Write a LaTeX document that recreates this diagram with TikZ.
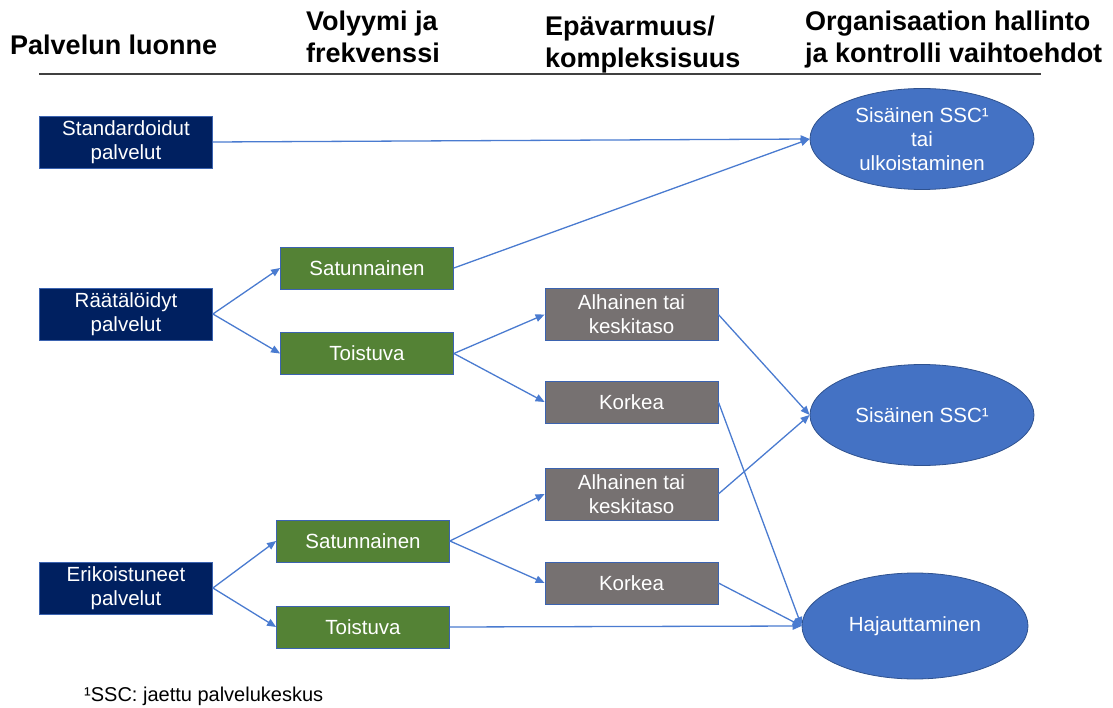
\documentclass[tikz,border=0pt]{standalone}
\usepackage{fontspec}
\setmainfont{Liberation Sans}
\usetikzlibrary{arrows.meta,shapes.geometric}

\definecolor{navy}{HTML}{002060}
\definecolor{leaf}{HTML}{548235}
\definecolor{stone}{HTML}{767171}
\definecolor{oval}{HTML}{4472C4}
\definecolor{ovalline}{HTML}{2F528F}
\definecolor{boxline}{HTML}{3B63B0}
\definecolor{arrowblue}{HTML}{4A7BD0}
\definecolor{rule}{HTML}{404040}

\begin{document}
\begin{tikzpicture}[x=1pt,y=-1pt,
  box/.style={draw=boxline, line width=0.8pt, text=white,
    font=\fontsize{20.5}{24}\selectfont, align=center, inner sep=0pt,
    minimum width=173pt},
  navybox/.style={box, fill=navy, minimum height=52pt},
  greenbox/.style={box, fill=leaf, minimum height=42pt},
  greybox/.style={box, fill=stone},
  goal/.style={ellipse, draw=ovalline, line width=0.8pt, fill=oval, text=white,
    font=\fontsize{20.5}{24}\selectfont, align=center, inner sep=0pt,
    minimum width=224pt, minimum height=101pt},
  link/.style={draw=arrowblue, line width=1.3pt,
    -{Triangle[length=9pt,width=7.5pt]}},
  head/.style={font=\fontsize{27}{32}\selectfont\bfseries, align=left,
    inner sep=0pt, anchor=base west}]

\useasboundingbox (0,0) rectangle (1113,708);

% column headings (anchored on the baseline of the last line)
\node[head] (h1) at (10,55) {Palvelun luonne};
\node[head] (h2) at (306,63) {Volyymi ja\\frekvenssi};
\node[head] (h3) at (545,68) {Epävarmuus/\\kompleksisuus};
\node[head] (h4) at (805,63) {Organisaation hallinto\\ja kontrolli vaihtoehdot};
\coordinate (ruleL) at (39,74);
\coordinate (ruleR) at (1041,74);
\draw[rule, line width=2pt] (ruleL) -- (ruleR);

% nature of the service
\node[navybox] (std) at (126,142) {Standardoidut\\palvelut};
\node[navybox] (rat) at (126,314) {Räätälöidyt\\palvelut};
\node[navybox] (eri) at (126,588) {Erikoistuneet\\palvelut};

% volume and frequency
\node[greenbox] (sat1) at (367,268) {Satunnainen};
\node[greenbox] (toi1) at (367,353.5) {Toistuva};
\node[greenbox] (sat2) at (363,541) {Satunnainen};
\node[greenbox] (toi2) at (363,627) {Toistuva};

% uncertainty / complexity
\node[greybox, minimum height=52pt] (alh1) at (631.5,314.5) {Alhainen tai\\keskitaso};
\node[greybox, minimum height=42pt] (kor1) at (631.5,402) {Korkea};
\node[greybox, minimum height=52pt] (alh2) at (631.5,494) {Alhainen tai\\keskitaso};
\node[greybox, minimum height=42pt] (kor2) at (631.5,583) {Korkea};

% governance options
\node[goal] (out) at (922,139) {Sisäinen SSC¹\\tai\\ulkoistaminen};
\node[goal] (ssc) at (922,415) {Sisäinen SSC¹};
\node[goal, minimum width=226pt, minimum height=106pt] (haj) at (915,626) {Hajauttaminen};

% connectors
\draw[link] (std.east) -- (out.west);
\draw[link] (sat1.east) -- (out.west);
\draw[link] (rat.east) -- (sat1.west);
\draw[link] (rat.east) -- (toi1.west);
\draw[link] (toi1.east) -- (alh1.west);
\draw[link] (toi1.east) -- (kor1.west);
\draw[link] (alh1.east) -- (ssc.west);
\draw[link] (kor1.east) -- (haj.west);
\draw[link] (eri.east) -- (sat2.west);
\draw[link] (eri.east) -- (toi2.west);
\draw[link] (sat2.east) -- (alh2.west);
\draw[link] (sat2.east) -- (kor2.west);
\draw[link] (alh2.east) -- (ssc.west);
\draw[link] (kor2.east) -- (haj.west);
\draw[link] (toi2.east) -- (haj.west);

% footnote
\node[font=\fontsize{20}{23}\selectfont, inner sep=0pt, anchor=base west] (note) at (84,701) {¹SSC: jaettu palvelukeskus};
\end{tikzpicture}
\end{document}
